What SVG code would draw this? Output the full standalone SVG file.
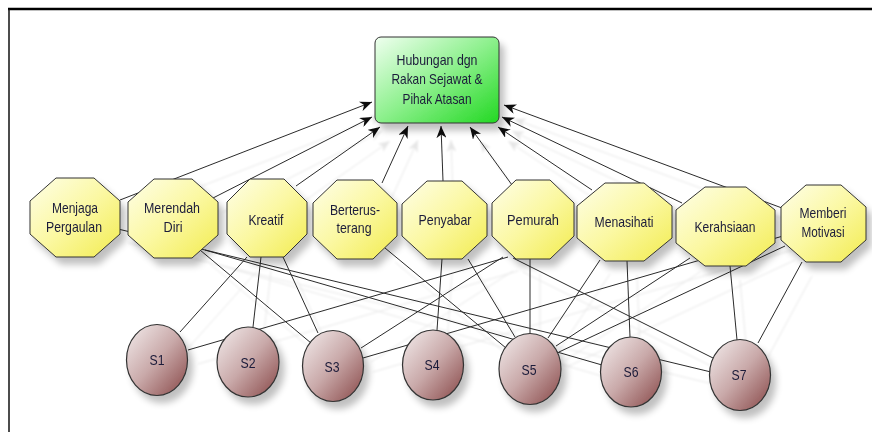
<svg xmlns="http://www.w3.org/2000/svg" width="872" height="432" viewBox="0 0 872 432">
<defs>
<linearGradient id="gY" x1="0" y1="0" x2="1" y2="1"><stop offset="0" stop-color="#fefee8"/><stop offset="0.5" stop-color="#fbf8a2"/><stop offset="1" stop-color="#f2ec50"/></linearGradient>
<linearGradient id="gC" x1="0" y1="0" x2="1" y2="1"><stop offset="0" stop-color="#f4eeee"/><stop offset="0.5" stop-color="#c9a9a9"/><stop offset="1" stop-color="#874646"/></linearGradient>
<linearGradient id="gG" x1="0" y1="0" x2="1" y2="1"><stop offset="0" stop-color="#f0fff0"/><stop offset="0.5" stop-color="#8cf08c"/><stop offset="1" stop-color="#22d822"/></linearGradient>
<filter id="ls" filterUnits="userSpaceOnUse" x="0" y="0" width="872" height="432"><feOffset in="SourceAlpha" dx="10" dy="14"/><feGaussianBlur stdDeviation="1.2"/><feComponentTransfer><feFuncA type="linear" slope="0.1"/></feComponentTransfer><feMerge><feMergeNode/><feMergeNode in="SourceGraphic"/></feMerge></filter>
<filter id="ns" x="-20%" y="-20%" width="150%" height="150%"><feGaussianBlur in="SourceAlpha" stdDeviation="3.5"/><feOffset dx="5" dy="7"/><feComponentTransfer><feFuncA type="linear" slope="0.25"/></feComponentTransfer><feMerge><feMergeNode/><feMergeNode in="SourceGraphic"/></feMerge></filter>
<marker id="ah" viewBox="0 0 12 10" refX="12" refY="5" markerWidth="12" markerHeight="10" markerUnits="userSpaceOnUse" orient="auto"><path d="M0,0 L12,5 L0,10 L3.5,5 z" fill="#111"/></marker>
</defs>
<style>
.oct{fill:url(#gY);stroke:#333;stroke-width:1}
.cir{fill:url(#gC);stroke:#333;stroke-width:1.2}
.top{fill:url(#gG);stroke:#333;stroke-width:1}
text{font-family:"Liberation Sans",Arial,sans-serif;font-size:14.5px;fill:#1c1c3a;text-anchor:middle}
.s{font-size:15px}
.c line{stroke:#2a2a2a;stroke-width:1}
.c .a{marker-end:url(#ah)}
</style>
<rect x="0" y="0" width="872" height="432" fill="#fff"/>
<line x1="8" y1="9" x2="872" y2="9" stroke="#000" stroke-width="2.5"/>
<line x1="9" y1="9" x2="9" y2="432" stroke="#111" stroke-width="1.5"/>
<g id="connectors" class="c" filter="url(#ls)">
<line x1="118" y1="229" x2="711" y2="372"/>
<line x1="205" y1="250" x2="602" y2="365"/>
<line x1="200" y1="250" x2="311" y2="343"/>
<line x1="247" y1="257" x2="180" y2="332"/>
<line x1="261" y1="257" x2="253" y2="327"/>
<line x1="283" y1="257" x2="318" y2="333"/>
<line x1="508" y1="257" x2="188" y2="350"/>
<line x1="503" y1="257" x2="361" y2="348"/>
<line x1="783" y1="236" x2="363" y2="358"/>
<line x1="442" y1="259" x2="437" y2="330"/>
<line x1="385" y1="248" x2="506" y2="348"/>
<line x1="468" y1="259" x2="515" y2="337"/>
<line x1="530" y1="259" x2="530" y2="333"/>
<line x1="513" y1="258" x2="713" y2="358"/>
<line x1="600" y1="260" x2="548" y2="338"/>
<line x1="627" y1="261" x2="630" y2="337"/>
<line x1="690" y1="258" x2="556" y2="346"/>
<line x1="730" y1="266" x2="737" y2="340"/>
<line x1="802" y1="262" x2="758" y2="343"/>
<line x1="785" y1="246" x2="559" y2="352"/>
<line class="a" x1="120" y1="200" x2="372" y2="102"/>
<line class="a" x1="213" y1="198" x2="372" y2="117"/>
<line class="a" x1="296" y1="186" x2="380" y2="127"/>
<line class="a" x1="382" y1="183" x2="408" y2="126"/>
<line class="a" x1="443" y1="181" x2="441" y2="126"/>
<line class="a" x1="512" y1="185" x2="470" y2="127"/>
<line class="a" x1="592" y1="190" x2="498" y2="127"/>
<line class="a" x1="682" y1="203" x2="502" y2="117"/>
<line class="a" x1="782" y1="208" x2="504" y2="105"/>
</g>
<g id="n-top" filter="url(#ns)"><rect class="top" x="375" y="37" width="124" height="86" rx="6"/><text x="437" y="65" textLength="81" lengthAdjust="spacingAndGlyphs">Hubungan dgn</text><text x="437" y="84" textLength="91" lengthAdjust="spacingAndGlyphs">Rakan Sejawat &amp;</text><text x="437" y="104" textLength="69" lengthAdjust="spacingAndGlyphs">Pihak Atasan</text></g>
<g id="n-menjaga" filter="url(#ns)"><polygon class="oct" points="56,178 94,178 120,201 120,234 94,257 56,257 30,234 30,201"/><text x="75" y="213" textLength="46" lengthAdjust="spacingAndGlyphs">Menjaga</text><text x="74" y="232" textLength="56" lengthAdjust="spacingAndGlyphs">Pergaulan</text></g>
<g id="n-merendah" filter="url(#ns)"><polygon class="oct" points="154,179 192,179 218,202 218,235 192,258 154,258 128,235 128,202"/><text x="172" y="213" textLength="56" lengthAdjust="spacingAndGlyphs">Merendah</text><text x="173" y="232" textLength="19" lengthAdjust="spacingAndGlyphs">Diri</text></g>
<g id="n-kreatif" filter="url(#ns)"><polygon class="oct" points="250,179 284,179 307,202 307,234 284,257 250,257 227,234 227,202"/><text x="266" y="225" textLength="35" lengthAdjust="spacingAndGlyphs">Kreatif</text></g>
<g id="n-berterus" filter="url(#ns)"><polygon class="oct" points="337,180 373,180 397,203 397,236 373,259 337,259 313,236 313,203"/><text x="355" y="215" textLength="50" lengthAdjust="spacingAndGlyphs">Berterus-</text><text x="354" y="233" textLength="35" lengthAdjust="spacingAndGlyphs">terang</text></g>
<g id="n-penyabar" filter="url(#ns)"><polygon class="oct" points="427,181 462,181 487,204 487,236 462,259 427,259 402,236 402,204"/><text x="445" y="225" textLength="53" lengthAdjust="spacingAndGlyphs">Penyabar</text></g>
<g id="n-pemurah" filter="url(#ns)"><polygon class="oct" points="516,180 550,180 574,203 574,236 550,259 516,259 492,236 492,203"/><text x="533" y="225" textLength="52" lengthAdjust="spacingAndGlyphs">Pemurah</text></g>
<g id="n-menasihati" filter="url(#ns)"><polygon class="oct" points="605,183 644,183 672,206 672,238 644,261 605,261 577,238 577,206"/><text x="624" y="227" textLength="59" lengthAdjust="spacingAndGlyphs">Menasihati</text></g>
<g id="n-kerahsiaan" filter="url(#ns)"><polygon class="oct" points="705,187 746,187 775,210 775,243 746,266 705,266 676,243 676,210"/><text x="725" y="232" textLength="61" lengthAdjust="spacingAndGlyphs">Kerahsiaan</text></g>
<g id="n-memberi" filter="url(#ns)"><polygon class="oct" points="806,185 841,185 866,207 866,240 841,262 806,262 781,240 781,207"/><text x="823" y="218" textLength="47" lengthAdjust="spacingAndGlyphs">Memberi</text><text x="823" y="237" textLength="43" lengthAdjust="spacingAndGlyphs">Motivasi</text></g>
<g id="n-s1" filter="url(#ns)"><ellipse class="cir" cx="157" cy="360" rx="30.5" ry="35.5"/><text class="s" x="157" y="365" textLength="15" lengthAdjust="spacingAndGlyphs">S1</text></g>
<g id="n-s2" filter="url(#ns)"><ellipse class="cir" cx="248" cy="362" rx="31" ry="35"/><text class="s" x="248" y="368" textLength="15" lengthAdjust="spacingAndGlyphs">S2</text></g>
<g id="n-s3" filter="url(#ns)"><ellipse class="cir" cx="333" cy="366" rx="30.5" ry="35.5"/><text class="s" x="332" y="372" textLength="15" lengthAdjust="spacingAndGlyphs">S3</text></g>
<g id="n-s4" filter="url(#ns)"><ellipse class="cir" cx="433" cy="365" rx="30.5" ry="35"/><text class="s" x="432" y="370" textLength="15" lengthAdjust="spacingAndGlyphs">S4</text></g>
<g id="n-s5" filter="url(#ns)"><ellipse class="cir" cx="530" cy="369" rx="31" ry="35.5"/><text class="s" x="529" y="375" textLength="15" lengthAdjust="spacingAndGlyphs">S5</text></g>
<g id="n-s6" filter="url(#ns)"><ellipse class="cir" cx="631" cy="372" rx="30.5" ry="35"/><text class="s" x="631" y="377" textLength="15" lengthAdjust="spacingAndGlyphs">S6</text></g>
<g id="n-s7" filter="url(#ns)"><ellipse class="cir" cx="740" cy="375" rx="30.5" ry="35.5"/><text class="s" x="739" y="380" textLength="15" lengthAdjust="spacingAndGlyphs">S7</text></g>
</svg>
